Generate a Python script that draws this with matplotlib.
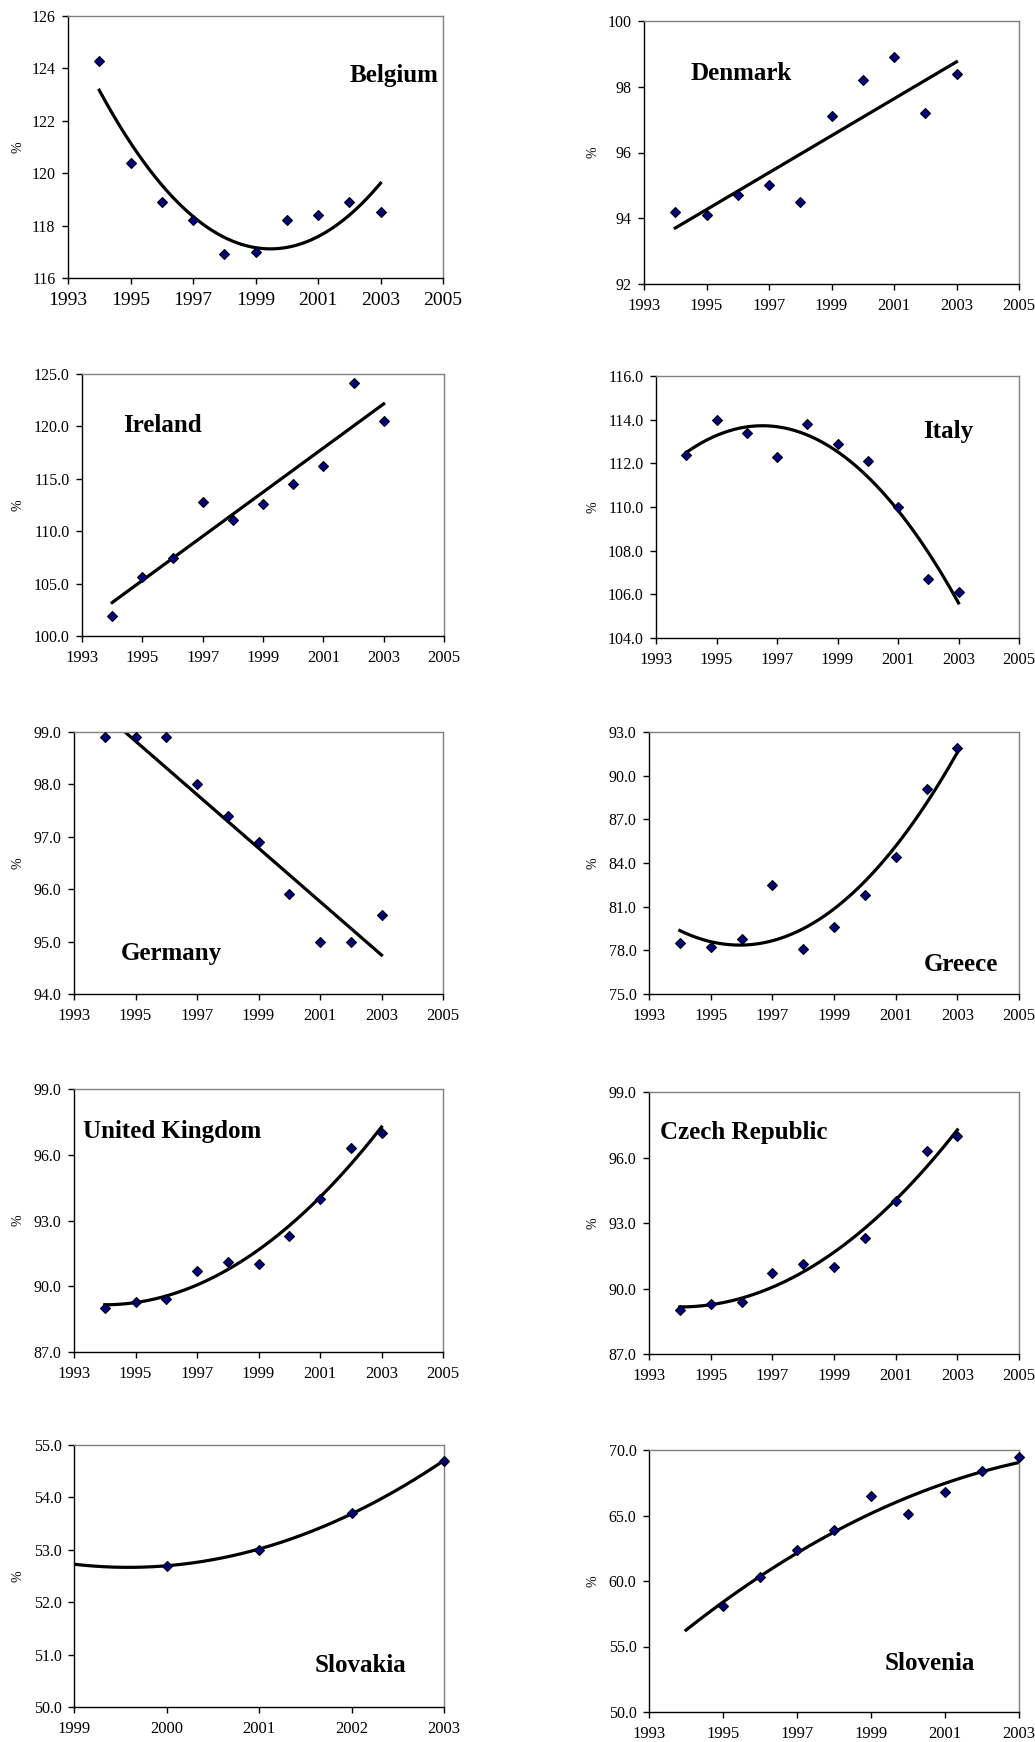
import numpy as np
import matplotlib
matplotlib.use("Agg")
import matplotlib.pyplot as plt
from matplotlib.ticker import FormatStrFormatter

plt.rcParams['font.family'] = ['Liberation Serif', 'DejaVu Serif']

W, H = 1035, 1742

# data (% values by year)
years = [1994, 1995, 1996, 1997, 1998, 1999, 2000, 2001, 2002, 2003]
belgium = [124.3, 120.4, 118.9, 118.2, 116.9, 117.0, 118.2, 118.4, 118.9, 118.5]
denmark = [94.2, 94.1, 94.7, 95.0, 94.5, 97.1, 98.2, 98.9, 97.2, 98.4]
ireland = [101.9, 105.6, 107.4, 112.8, 111.1, 112.6, 114.5, 116.2, 124.1, 120.5]
italy = [112.4, 114.0, 113.4, 112.3, 113.8, 112.9, 112.1, 110.0, 106.7, 106.1]
germany = [98.9, 98.9, 98.9, 98.0, 97.4, 96.9, 95.9, 95.0, 95.0, 95.5]
greece = [78.5, 78.2, 78.8, 82.5, 78.1, 79.6, 81.8, 84.4, 89.1, 91.9]
uk = [89.0, 89.3, 89.4, 90.7, 91.1, 91.0, 92.3, 94.0, 96.3, 97.0]
czech = [89.0, 89.3, 89.4, 90.7, 91.1, 91.0, 92.3, 94.0, 96.3, 97.0]
slovakia_years = [2000, 2001, 2002, 2003]
slovakia = [52.7, 53.0, 53.7, 54.7]
slovenia_years = [1995, 1996, 1997, 1998, 1999, 2000, 2001, 2002, 2003]
slovenia = [58.1, 60.3, 62.4, 63.9, 66.5, 65.1, 66.8, 68.4, 69.5]


def px_rect(l, t, r, b):
    return [l / W, 1 - b / H, (r - l) / W, (b - t) / H]


# name, x, y, trend order, backcast, box (px), xlim, xstep, ylim, ystep, fmt, label pos, ha
panels = [
    ("Belgium", years, belgium, 2, 0, (68, 16, 443, 278), (1993, 2005), 2, (116, 126), 2, "%d", (0.987, 0.771), "right"),
    ("Denmark", years, denmark, 1, 0, (644, 21, 1019, 284), (1993, 2005), 2, (92, 100), 2, "%d", (0.125, 0.802), "left"),
    ("Ireland", years, ireland, 1, 0, (82, 374, 444, 636), (1993, 2005), 2, (100, 125), 5, "%.1f", (0.113, 0.805), "left"),
    ("Italy", years, italy, 2, 0, (656, 376, 1019, 638), (1993, 2005), 2, (104, 116), 2, "%.1f", (0.873, 0.79), "right"),
    ("Germany", years, germany, 1, 0, (74, 732, 443, 994), (1993, 2005), 2, (94, 99), 1, "%.1f", (0.127, 0.153), "left"),
    ("Greece", years, greece, 2, 0, (649, 732, 1019, 994), (1993, 2005), 2, (75, 93), 3, "%.1f", (0.943, 0.111), "right"),
    ("United Kingdom", years, uk, 2, 0, (74, 1089, 443, 1352), (1993, 2005), 2, (87, 99), 3, "%.1f", (0.024, 0.837), "left"),
    ("Czech Republic", years, czech, 2, 0, (649, 1092, 1019, 1354), (1993, 2005), 2, (87, 99), 3, "%.1f", (0.030, 0.844), "left"),
    ("Slovakia", slovakia_years, slovakia, 2, 1, (74, 1445, 444, 1707), (1999, 2003), 1, (50, 55), 1, "%.1f", (0.651, 0.160), "left"),
    ("Slovenia", slovenia_years, slovenia, 2, 1, (649, 1450, 1019, 1712), (1993, 2003), 2, (50, 70), 5, "%.1f", (0.638, 0.187), "left"),
]

fig = plt.figure(figsize=(W / 100, H / 100), dpi=100)

for name, x, y, order, back, box, xlim, xstep, ylim, ystep, fmt, lpos, ha in panels:
    ax = fig.add_axes(px_rect(*box))
    x = np.array(x, dtype=float)
    y = np.array(y, dtype=float)

    # excel-style polynomial trendline
    coef = np.polyfit(x - x[0], y, order)
    xs = np.linspace(x[0] - back, x[-1], 300)
    ax.plot(xs, np.polyval(coef, xs - x[0]), color="black", lw=2.3, zorder=2)
    ax.plot(x, y, ls="none", marker="D", ms=5.2, mfc="#000080", mec="black",
            mew=0.8, zorder=3, clip_on=False)

    ax.set_xlim(*xlim)
    ax.set_ylim(*ylim)
    ax.set_xticks(np.arange(xlim[0], xlim[1] + 1, xstep))
    ax.set_yticks(np.arange(ylim[0], ylim[1] + 0.5 * ystep, ystep))
    ax.yaxis.set_major_formatter(FormatStrFormatter(fmt))
    xsize = 14 if name == "Belgium" else 12
    ax.tick_params(axis="x", direction="out", length=4, width=1, labelsize=xsize, pad=6)
    ax.tick_params(axis="y", direction="out", length=4, width=1, labelsize=11.5, pad=5)
    for s in ("left", "bottom"):
        ax.spines[s].set_color("black")
        ax.spines[s].set_linewidth(1)
    for s in ("top", "right"):
        ax.spines[s].set_color("#808080")
        ax.spines[s].set_linewidth(1)

    ax.text(lpos[0], lpos[1], name, transform=ax.transAxes, ha=ha, va="center",
            fontsize=18, fontweight="bold")

    lx = 18 if box[0] < 500 else 593
    fig.text(lx / W, 1 - (box[1] + box[3]) / 2 / H, "%", rotation=90,
             ha="center", va="center", fontsize=10)

fig.savefig("out.png", dpi=100)
